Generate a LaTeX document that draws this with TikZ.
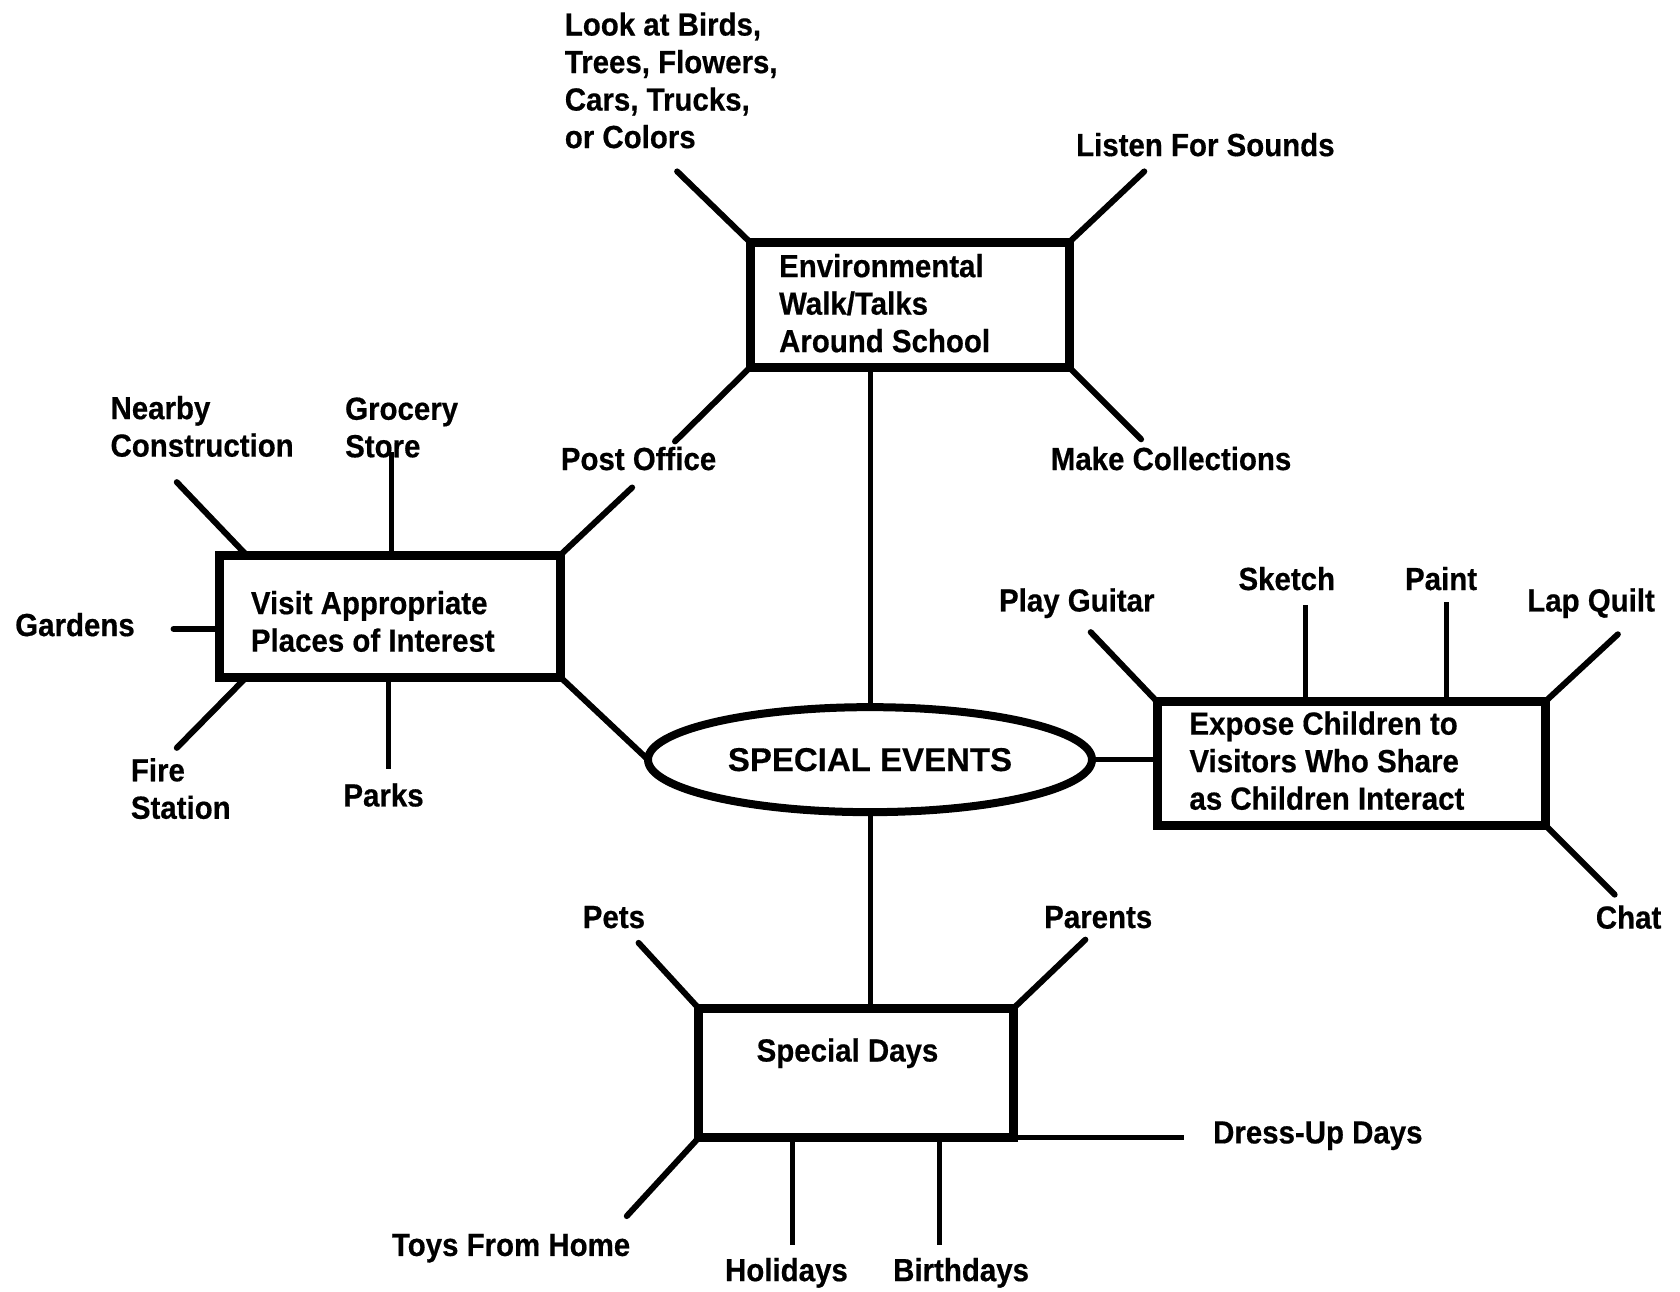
\documentclass[tikz,border=0pt]{standalone}
\usepackage{fontspec}
\setmainfont{Liberation Sans}[FakeStretch=0.92, BoldFeatures={FakeBold=0.5}]
\newfontfamily\evfont{Liberation Sans}[BoldFeatures={FakeBold=0.3}]
\usetikzlibrary{shapes.geometric,fit}
\begin{document}
\begin{tikzpicture}[x=1.0714pt,y=-1.0714pt,
  box/.style={draw, line width=9pt, inner sep=0pt, outer sep=0pt, fit={#1}},
  spoke/.style={line width=6pt, line cap=round},
  stem/.style={line width=5pt},
  lbl/.style={font=\fontsize{32}{37.5}\selectfont\bfseries, inner sep=0pt, align=left}]
\useasboundingbox[fill=white] (0,0) rectangle (1568,1205);

% boxes and the central ellipse
\node[box={(700,226) (998,343)}] (env) {};
\node[box={(205,518) (523,632)}] (visit) {};
\node[box={(1080,655) (1442,770)}] (expose) {};
\node[box={(652,941) (946,1062)}] (days) {};
\node[draw, ellipse, line width=8pt, minimum width=444pt, minimum height=105pt,
      inner sep=0pt, outer sep=0pt, font=\evfont\fontsize{33}{38}\selectfont\bfseries] (events) at (812,709) {SPECIAL EVENTS};

% texts inside the boxes
\node[lbl, anchor=west] (envtxt) at (727,283) {Environmental\\Walk/Talks\\Around School};
\node[lbl, anchor=west] (visittxt) at (234,580) {Visit Appropriate\\Places of Interest};
\node[lbl, anchor=west] (exptxt) at (1110,710) {Expose Children to\\Visitors Who Share\\as Children Interact};
\node[lbl] (daystxt) at (791,983) {Special Days};

% labels
\node[lbl, anchor=west] (look) at (527,75) {Look at Birds,\\Trees, Flowers,\\Cars, Trucks,\\or Colors};
\node[lbl] (listen) at (1125,135) {Listen For Sounds};
\node[lbl] (post) at (596,428) {Post Office};
\node[lbl] (collect) at (1093,428) {Make Collections};
\node[lbl, anchor=west] (nearby) at (103,398) {Nearby\\Construction};
\node[lbl, anchor=west] (grocery) at (322,399) {Grocery\\Store};
\node[lbl] (gardens) at (70,583) {Gardens};
\node[lbl, anchor=west] (fire) at (122,736) {Fire\\Station};
\node[lbl] (parks) at (358,742) {Parks};
\node[lbl] (guitar) at (1005,563) {Play Guitar};
\node[lbl] (sketch) at (1201,540) {Sketch};
\node[lbl] (paint) at (1345,540) {Paint};
\node[lbl] (quilt) at (1485,563) {Lap Quilt};
\node[lbl] (chat) at (1520,856) {Chat};
\node[lbl] (pets) at (573,856) {Pets};
\node[lbl] (parents) at (1025,856) {Parents};
\node[lbl] (dress) at (1230,1060) {Dress-Up Days};
\node[lbl] (toys) at (477,1165) {Toys From Home};
\node[lbl] (holidays) at (734,1188) {Holidays};
\node[lbl] (birthdays) at (897,1188) {Birthdays};

% free ends of the spokes
\coordinate (eLook) at (632,160);
\coordinate (eListen) at (1068,160);
\coordinate (ePostA) at (630,412);
\coordinate (eCollect) at (1065,410);
\coordinate (eNearby) at (165,450);
\coordinate (eGrocery) at (365,422);
\coordinate (ePostB) at (590,455);
\coordinate (eGardens) at (162,587);
\coordinate (eFire) at (165,698);
\coordinate (eParks) at (363,718);
\coordinate (eGuitar) at (1018,590);
\coordinate (eSketch) at (1218,565);
\coordinate (ePaint) at (1350,562);
\coordinate (eQuilt) at (1510,592);
\coordinate (eChat) at (1507,835);
\coordinate (ePets) at (596,880);
\coordinate (eParents) at (1013,877);
\coordinate (eToys) at (585,1135);
\coordinate (eHolidays) at (740,1162);
\coordinate (eBirthdays) at (877,1162);
\coordinate (eDress) at (1105,1062);

% links to the ellipse
\draw[stem] (events.north) -- (events.north |- env.south);
\draw[stem] (events.south) -- (events.south |- days.north);
\draw[spoke] (visit.south east) -- (events.west);
\draw[stem] (events.east) -- (events.east -| expose.west);

% spokes of the walk box
\draw[spoke] (env.north west) -- (eLook);
\draw[spoke] (env.north east) -- (eListen);
\draw[spoke] (env.south west) -- (ePostA);
\draw[spoke] (env.south east) -- (eCollect);

% spokes of the places box
\draw[spoke] (visit.north west) ++(25,0) -- (eNearby);
\draw[stem] (eGrocery |- visit.north) -- (eGrocery);
\draw[spoke] (visit.north east) -- (ePostB);
\draw[spoke] (eGardens -| visit.west) -- (eGardens);
\draw[spoke] (visit.south west) ++(25,0) -- (eFire);
\draw[stem] (eParks |- visit.south) -- (eParks);

% spokes of the visitors box
\draw[spoke] (expose.north west) -- (eGuitar);
\draw[stem] (eSketch |- expose.north) -- (eSketch);
\draw[stem] (ePaint |- expose.north) -- (ePaint);
\draw[spoke] (expose.north east) -- (eQuilt);
\draw[spoke] (expose.south east) -- (eChat);

% spokes of the special days box
\draw[spoke] (days.north west) -- (ePets);
\draw[spoke] (days.north east) -- (eParents);
\draw[spoke] (days.south west) -- (eToys);
\draw[stem] (eHolidays |- days.south) -- (eHolidays);
\draw[stem] (eBirthdays |- days.south) -- (eBirthdays);
\draw[stem] (days.south east) -- (eDress);
\end{tikzpicture}
\end{document}
